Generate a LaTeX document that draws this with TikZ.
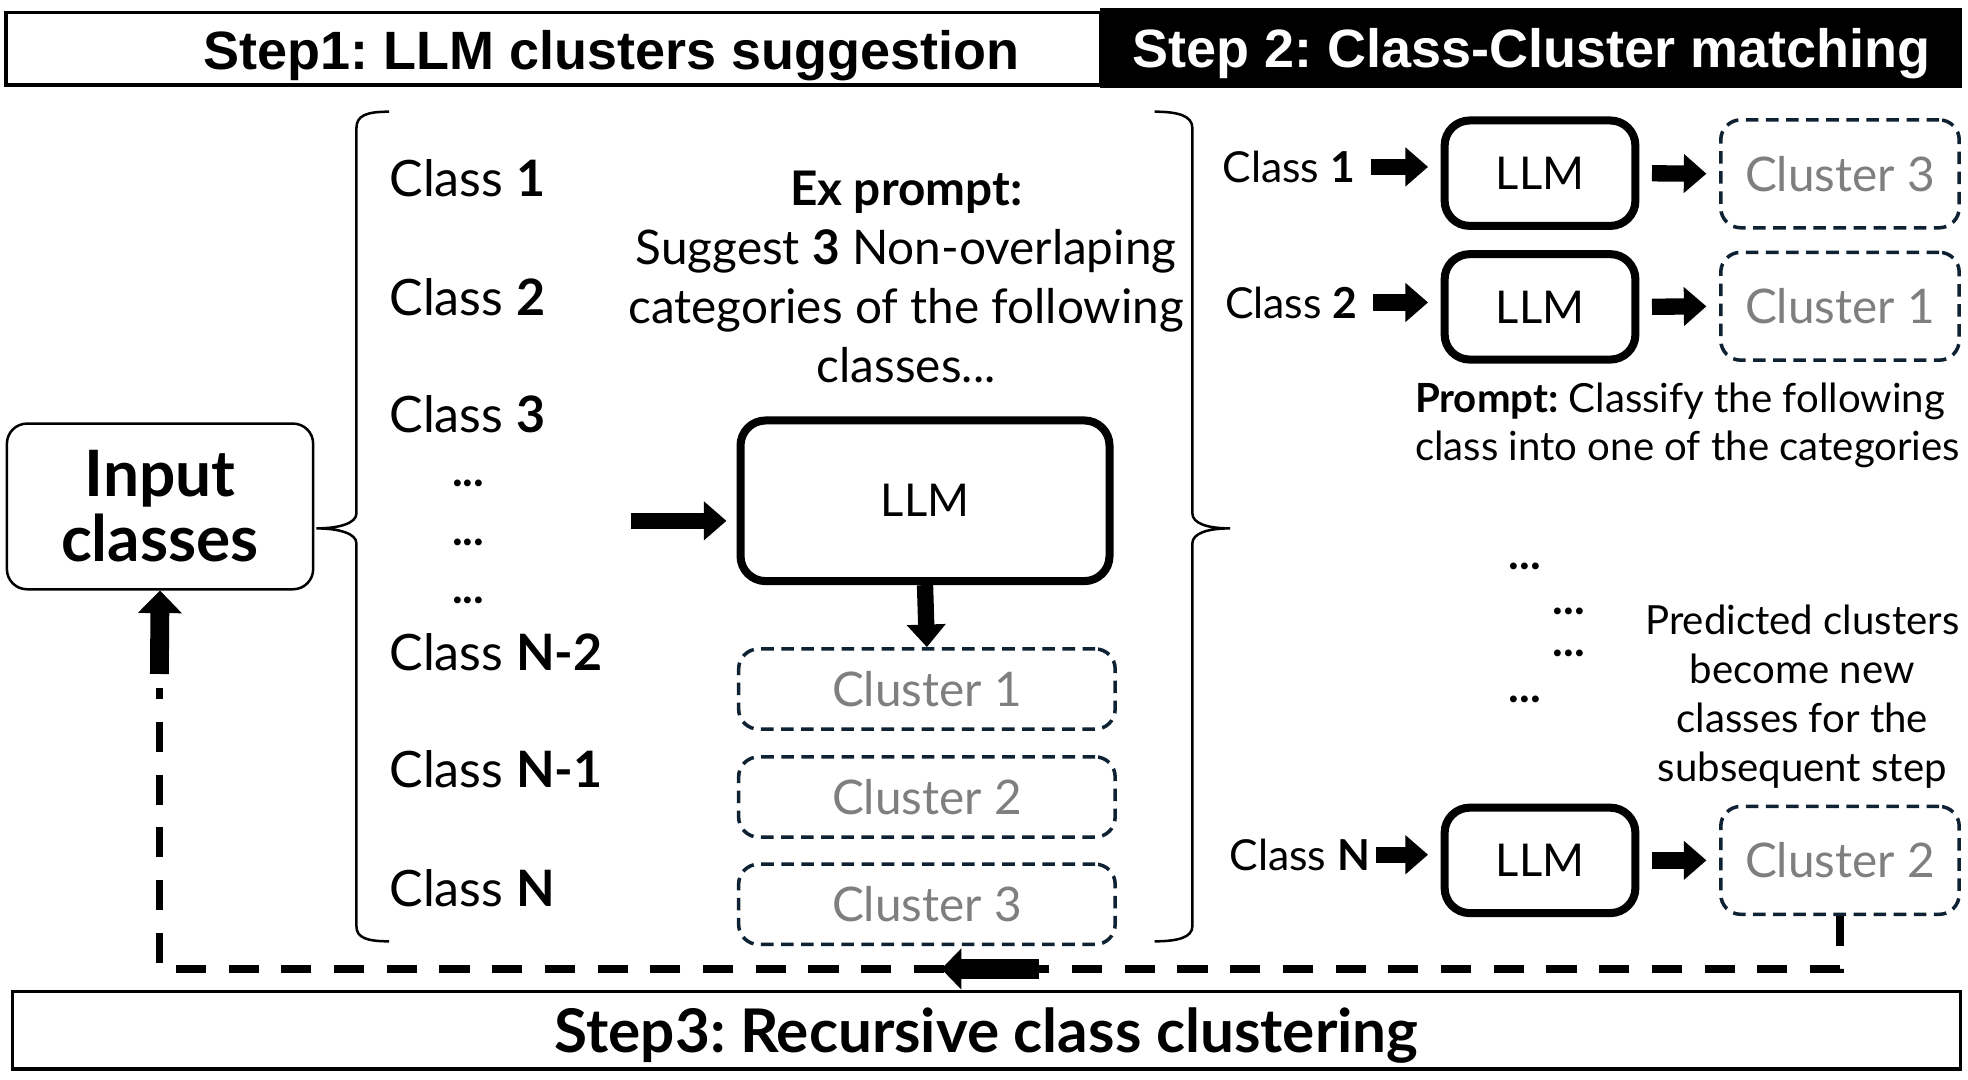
\documentclass[tikz,border=0pt]{standalone}
\usepackage{fontspec}
\setmainfont{Lato}
\newfontfamily\headfont{Liberation Sans}
\usetikzlibrary{arrows.meta,positioning}
\definecolor{clusterline}{HTML}{0E2233}
\definecolor{clustertext}{HTML}{7F7F7F}
\frenchspacing
\tikzset{
  StepStyle/.style = { draw, line width=1.5pt, inner sep=0pt, text depth=0pt,
                       font = \headfont\bfseries\fontsize{21.5}{25}\selectfont },
  InputStyle/.style = { draw, line width=1pt, rounded corners=8pt, align=center,
                        minimum width=122pt, minimum height=66pt,
                        font = \bfseries\fontsize{25.5}{26}\selectfont },
  LLMStyle/.style = { draw, line width=3.2pt, rounded corners=10pt,
                      font = \fontsize{18}{22}\selectfont },
  ClusterStyle/.style = { draw=clusterline, line width=1.4pt, dash pattern=on 5pt off 3pt,
                          rounded corners=8pt, text=clustertext,
                          font = \fontsize{19}{22}\selectfont },
  ClassStyle/.style = { anchor=west, inner sep=0pt, font = \fontsize{20}{24}\selectfont },
  DotsStyle/.style = { inner sep=0pt, font = \bfseries\fontsize{18}{20}\selectfont },
  TextStyle/.style = { align=center, inner sep=0pt },
  FatArrow/.style = { line width=6.5pt, -{Triangle[width=15pt,length=9pt]} },
  LoopStyle/.style = { line width=3pt, dash pattern=on 12pt off 9pt } }

\begin{document}
\begin{tikzpicture}[x=0.5pt, y=-0.5pt]
  \useasboundingbox (0,0) rectangle (1568,860);
  % step headers
  \node[StepStyle, minimum width=436pt, minimum height=29pt] (step1) at (441,39) {};
  \node[StepStyle, draw=none] (step1txt) at (487,40) {Step1: LLM clusters suggestion};
  \node[StepStyle, fill=black, text=white, minimum width=342pt, minimum height=30.5pt]
       (step2) at (1220,38.5) {Step 2: Class-Cluster matching};
  \node[StepStyle, minimum width=776pt, minimum height=31pt,
        font=\bfseries\fontsize{24}{28}\selectfont] (step3) at (786,821)
       {Step3: Recursive class clustering};

  \node[InputStyle] (input) at (127.5,403.5) {Input\\classes};

  % braces
  \draw[line width=1pt] (310,89) .. controls (292,89) and (284,92) .. (284,102)
       -- (284,409) .. controls (284,417) and (270,421) .. (252,421)
       .. controls (270,421) and (284,425) .. (284,433)
       -- (284,738) .. controls (284,747) and (292,750) .. (310,750);
  \draw[line width=1pt] (920,89) .. controls (938,89) and (950,92) .. (950,102)
       -- (950,409) .. controls (950,417) and (962,421) .. (980,421)
       .. controls (962,421) and (950,425) .. (950,433)
       -- (950,738) .. controls (950,747) and (938,750) .. (920,750);

  % step 1
  \node[ClassStyle] (c1) at (310,142) {Class \textbf{1}};
  \node[ClassStyle] (c2) at (310,237) {Class \textbf{2}};
  \node[ClassStyle] (c3) at (310,330) {Class \textbf{3}};
  \node[DotsStyle] (d1) at (373,385) {...};
  \node[DotsStyle] (d2) at (373,432) {...};
  \node[DotsStyle] (d3) at (373,478) {...};
  \node[ClassStyle] (cn2) at (310,520) {Class \textbf{N-2}};
  \node[ClassStyle] (cn1) at (310,613) {Class \textbf{N-1}};
  \node[ClassStyle] (cn) at (310,708) {Class \textbf{N}};

  \node[TextStyle, font=\fontsize{19}{23.5}\selectfont] (prompt) at (722,221)
       {\textbf{Ex prompt:}\\Suggest \textbf{3} Non-overlaping\\categories of the following\\classes...};
  \node[LLMStyle, minimum width=147pt, minimum height=64pt] (llm) at (737,399) {LLM};
  \node[ClusterStyle, minimum width=150pt, minimum height=32pt] (cl1) at (738.5,549) {Cluster 1};
  \node[ClusterStyle, minimum width=150pt, minimum height=32pt] (cl2) at (738.5,635) {Cluster 2};
  \node[ClusterStyle, minimum width=150pt, minimum height=32pt] (cl3) at (738.5,720.5) {Cluster 3};

  \coordinate (feed) at (503,415);
  \draw[FatArrow, shorten >=4pt] (feed) -- (feed -| llm.west);
  \draw[FatArrow] (llm.south) -- (cl1.north);

  % step 2
  \node[ClassStyle, anchor=east, font=\fontsize{17}{20}\selectfont] (r1) at (1080,133) {Class \textbf{1}};
  \node[ClassStyle, anchor=east, font=\fontsize{17}{20}\selectfont] (r2) at (1082,241) {Class \textbf{2}};
  \node[ClassStyle, anchor=east, font=\fontsize{17}{20}\selectfont] (rn) at (1092,681) {Class \textbf{N}};
  \node[LLMStyle, minimum width=76pt, minimum height=42pt] (llm1) at (1227,138) {LLM};
  \node[LLMStyle, minimum width=76pt, minimum height=42pt] (llm2) at (1227,244.5) {LLM};
  \node[LLMStyle, minimum width=76pt, minimum height=42pt] (llm3) at (1227,685.5) {LLM};
  \node[ClusterStyle, minimum width=95pt, minimum height=43pt] (rc1) at (1466,138.5) {Cluster 3};
  \node[ClusterStyle, minimum width=95pt, minimum height=43pt] (rc2) at (1466,244) {Cluster 1};
  \node[ClusterStyle, minimum width=95pt, minimum height=43pt] (rc3) at (1466,685.5) {Cluster 2};

  \draw[FatArrow, shorten <=6pt, shorten >=5pt] (r1.east) -- (r1.east -| llm1.west);
  \draw[FatArrow, shorten <=6pt, shorten >=5pt] (r2.east) -- (r2.east -| llm2.west);
  \draw[FatArrow, shorten <=2pt, shorten >=5pt] (rn.east) -- (rn.east -| llm3.west);
  \draw[FatArrow, shorten <=5pt, shorten >=5pt] (llm1.east) -- (rc1.west);
  \draw[FatArrow, shorten <=5pt, shorten >=5pt] (llm2.east) -- (rc2.west);
  \draw[FatArrow, shorten <=5pt, shorten >=5pt] (llm3.east) -- (rc3.west);

  \node[TextStyle, align=left, anchor=west, font=\fontsize{16}{19}\selectfont] (clsprompt)
       at (1127,339) {\textbf{Prompt:} Classify the following\\class into one of the categories};
  \node[DotsStyle] (e1) at (1215,451) {...};
  \node[DotsStyle] (e2) at (1250,487) {...};
  \node[DotsStyle] (e3) at (1250,521) {...};
  \node[DotsStyle] (e4) at (1215,557) {...};
  \node[TextStyle, font=\fontsize{16}{19.5}\selectfont] (pred) at (1436,555)
       {Predicted clusters\\become new\\classes for the\\subsequent step};

  % step 3 loop
  \coordinate (loopR) at (1467,772);
  \coordinate (loopL) at (127,772);
  \coordinate (loopUp) at (127,548);
  \coordinate (upfoot) at (127,537);
  \coordinate (backA) at (828,772);
  \coordinate (backB) at (750,772);
  \draw[LoopStyle] (rc3.south) -- (rc3.south |- loopR) -- (loopL) -- (loopUp);
  \draw[FatArrow, line width=7.5pt, -{Triangle[width=17pt,length=9pt]}] (upfoot) -- (input.south);
  \draw[FatArrow, line width=8pt, -{Triangle[width=16pt,length=8pt]}] (backA) -- (backB);
\end{tikzpicture}
\end{document}
